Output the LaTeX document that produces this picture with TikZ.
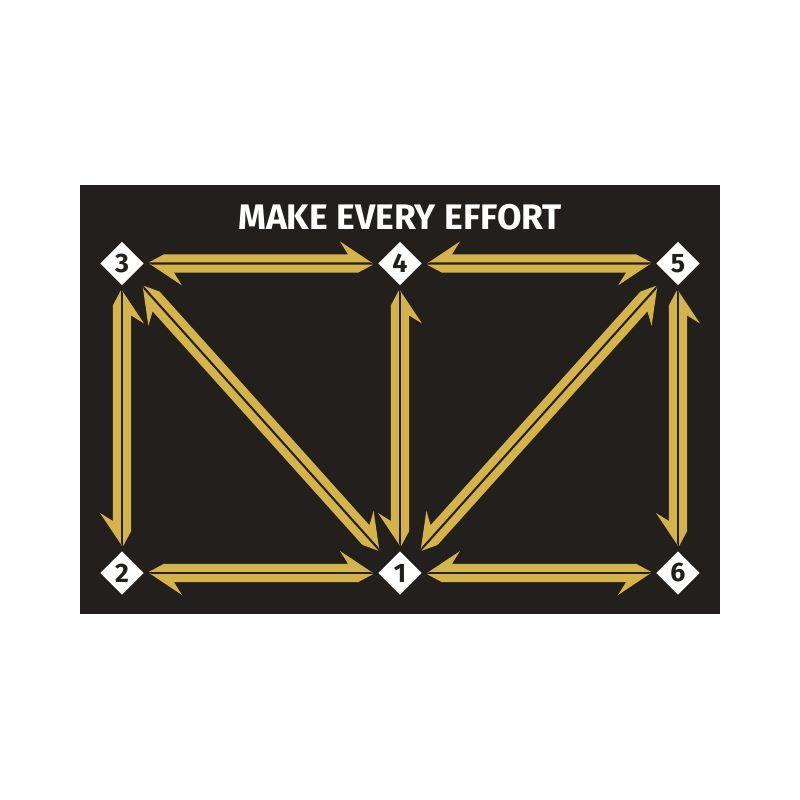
\documentclass[tikz,border=0pt]{standalone}
\usepackage{fontspec}
\usepackage{xcolor}
\usepackage{tikz}
\usetikzlibrary{calc,backgrounds,shapes}
\newfontfamily\signfont{Fira Sans}
\definecolor{board}{HTML}{231F1C}
\definecolor{gold}{HTML}{D4B44A}
\tikzstyle{spot}=[diamond,fill=white,inner sep=0pt,minimum width=0.44cm,minimum height=0.44cm,text=board,font=\signfont\bfseries\fontsize{7.6}{7.6}\selectfont]
\tikzstyle{title}=[text=white,font=\signfont\bfseries\fontsize{10.1}{10.1}\selectfont]
% one half of a split double arrow: from #2 to #3, on side #4
\newcommand{\harp}[4][0.27]{%
  \pgfmathsetmacro\tailout{#1+0.15}
  \pgfmathsetmacro\nearin{#1+0.03}
  \pgfmathsetmacro\notch{#1+0.25}
  \pgfmathsetmacro\barb{#1+0.33}
  \pgfmathsetmacro\back{-(#4)}
  \fill[gold] ($(#2)!{#1cm}!(#3)!0.012cm!#4:(#3)$)
    -- ($(#2)!{\tailout cm}!(#3)!0.092cm!#4:(#3)$)
    -- ($(#3)!{\notch cm}!(#2)!0.092cm!\back:(#2)$)
    -- ($(#3)!{\barb cm}!(#2)!0.22cm!\back:(#2)$)
    -- ($(#3)!{#1cm}!(#2)$)
    -- ($(#3)!{\nearin cm}!(#2)!0.012cm!\back:(#2)$)
    -- cycle;}

\begin{document}
\begin{tikzpicture}
  \useasboundingbox (0,0) rectangle (8,8);
  \node at (4.00,5.83) [title] (Title) {MAKE EVERY EFFORT};
  \node at (1.22,5.365) [spot] (Spot3) {3};
  \node at (4.00,5.365) [spot] (Spot4) {4};
  \node at (6.78,5.365) [spot] (Spot5) {5};
  \node at (1.22,2.27) [spot] (Spot2) {2};
  \node at (4.00,2.27) [spot] (Spot1) {1};
  \node at (6.78,2.27) [spot] (Spot6) {6};
  % left half
  \harp{Spot3}{Spot4}{90}
  \harp{Spot4}{Spot3}{90}
  \harp{Spot2}{Spot1}{90}
  \harp{Spot1}{Spot2}{90}
  \harp[0.31]{Spot3}{Spot1}{90}
  \harp[0.31]{Spot1}{Spot3}{90}
  % right half
  \harp{Spot5}{Spot4}{-90}
  \harp{Spot4}{Spot5}{-90}
  \harp{Spot6}{Spot1}{-90}
  \harp{Spot1}{Spot6}{-90}
  \harp[0.31]{Spot5}{Spot1}{-90}
  \harp[0.31]{Spot1}{Spot5}{-90}
  % uprights
  \harp{Spot2}{Spot3}{-90}
  \harp{Spot3}{Spot2}{-90}
  \harp{Spot1}{Spot4}{-90}
  \harp{Spot4}{Spot1}{-90}
  \harp{Spot6}{Spot5}{-90}
  \harp{Spot5}{Spot6}{-90}
  \begin{pgfonlayer}{background}
    \fill [white] (0,0) rectangle (8,8);
    \fill [board] (0.80,1.86) rectangle (7.20,6.15);
  \end{pgfonlayer}
\end{tikzpicture}
\end{document}
